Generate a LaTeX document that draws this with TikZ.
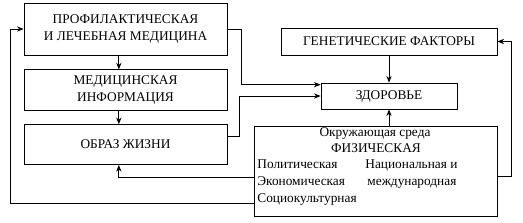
\documentclass[tikz,border=0pt]{standalone}
\usepackage{fontspec}
\setmainfont{Liberation Serif}
\usetikzlibrary{positioning,arrows.meta}

\begin{document}
\begin{tikzpicture}[x=0.75pt,y=-0.75pt,>={Stealth[length=5pt,width=4pt]},line width=0.6pt]
  \tikzstyle{blok}=[draw,minimum width=152.25pt,inner sep=1pt,align=center,
    font=\fontsize{10}{12.6}\selectfont]
  \tikzstyle{txt}=[inner sep=0pt,font=\fontsize{10}{12.6}\selectfont]
  \useasboundingbox (0,0) rectangle (523,222);
  % left column
  \node[blok,minimum height=39pt] (med) at (125.5,29) {ПРОФИЛАКТИЧЕСКАЯ\\И ЛЕЧЕБНАЯ МЕДИЦИНА};
  \node[blok,minimum height=30.75pt,below=10.5pt of med] (info) {МЕДИЦИНСКАЯ\\ИНФОРМАЦИЯ};
  \node[blok,minimum height=30pt,below=9.75pt of info] (life) {ОБРАЗ ЖИЗНИ};
  % right column
  \node[blok,minimum width=162pt,minimum height=20.25pt] (gen) at (389,41.5) {ГЕНЕТИЧЕСКИЕ ФАКТОРЫ};
  \node[blok,minimum width=102pt,minimum height=19.5pt] (health) at (389,96) {ЗДОРОВЬЕ};
  \node[draw,minimum width=182.25pt,minimum height=67.5pt] (env) at (375.5,171) {};
  \node[txt,anchor=base] (env1) at (375,136) {Окружающая среда};
  \node[txt,anchor=base] (env2) at (376,152) {ФИЗИЧЕСКАЯ};
  \node[txt,anchor=base west] (pol) at (257,168) {Политическая};
  \node[txt,anchor=base west] (eko) at (257,185) {Экономическая};
  \node[txt,anchor=base west] (soc) at (257,202) {Социокультурная};
  \node[txt,anchor=base west] (nac) at (365,168) {Национальная и};
  \node[txt,anchor=base west] (mezh) at (367,185) {международная};
  % connectors
  \draw[->] ([xshift=-5pt]med.south) -- ([xshift=-5pt]info.north);
  \draw[->] ([xshift=-5pt]info.south) -- ([xshift=-5pt]life.north);
  \draw[->] (med.east) -- ++(14,0) |- ([yshift=8.5pt]health.west);
  \draw[->] ([yshift=6pt]life.east) -- ++(12,0) |- (health.west);
  \draw[->] (gen.south) -- (health.north);
  \draw[->] (env.north -| health.south) -- (health.south);
  \draw[->] ([yshift=-3.75pt]env.east) -- ++(14,0) |- (gen.east);
  \draw[->] ([yshift=-4.5pt]env.west) -| ([xshift=-5pt]life.south);
  \draw[->] ([yshift=-24pt]env.west) -- ++(-243,0) |- (med.west);
\end{tikzpicture}
\end{document}
